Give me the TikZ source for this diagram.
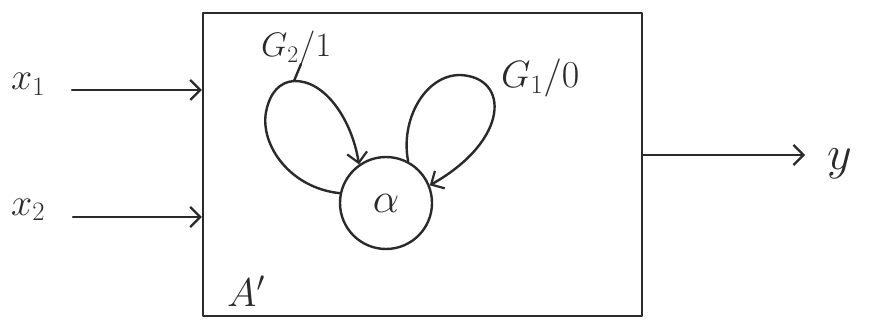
\RequirePackage{fix-cm}
\documentclass[tikz,border=0pt]{standalone}
\usetikzlibrary{arrows.meta}
\definecolor{ink}{HTML}{2A2A2A}
\begin{document}
\begin{tikzpicture}[x=1pt,y=-1pt, line width=2.4pt, draw=ink, line cap=round, line join=round,
  arr/.style={-{Straight Barb[length=10pt,width=20pt,line width=2.2pt]}},
  lbl/.style={font=\fontsize{38}{44}\selectfont, text=ink, inner sep=0pt}]
\useasboundingbox[fill=white] (0,0) rectangle (874,320);
% block
\node[draw, minimum width=439pt, minimum height=303pt, inner sep=0pt] (box) at (422.5,164.5) {};
% state
\node[draw, circle, minimum size=92pt, lbl, font=\fontsize{42}{48}\selectfont] (a) at (386,203) {$\alpha$};
% inputs
\node[lbl, anchor=base west] (x1) at (10,90) {$x_1$};
\node[lbl, anchor=base west] (x2) at (10,215) {$x_2$};
\coordinate (x1s) at (72,90);
\coordinate (x2s) at (73,217);
\draw[arr] (x1s) -- (x1s -| box.west);
\draw[arr] (x2s) -- (x2s -| box.west);
% output
\coordinate (ys) at (box.east |- 0,155);
\coordinate (ye) at (805,155);
\draw[arr] (ys) -- (ye);
\node[lbl, anchor=base west, font=\fontsize{48}{54}\selectfont] (y) at (826,170) {$y$};
% block name
\node[lbl, anchor=base west, font=\fontsize{40}{48}\selectfont] (A) at (226,306) {$A'$};
% loops
\coordinate (lt) at (294,81);
\draw[arr] (a.168) .. controls (290,188) and (260,145) .. (266,112)
  .. controls (270,92) and (280,82) .. (lt)
  .. controls (325,80) and (352,120) .. (a.125);
\draw[arr] (a.62) .. controls (400,120) and (425,75) .. (460,75)
  .. controls (510,77) and (510,140) .. (a.22);
% labels
\node[lbl, anchor=base west, font=\fontsize{34}{40}\selectfont] (g2) at (260,57) {$G_2/1$};
\node[lbl, anchor=base west] (g1) at (500,88) {$G_1/0$};
\coordinate (g2s) at (301,64);
\draw (g2s) -- (lt);
\end{tikzpicture}
\end{document}
